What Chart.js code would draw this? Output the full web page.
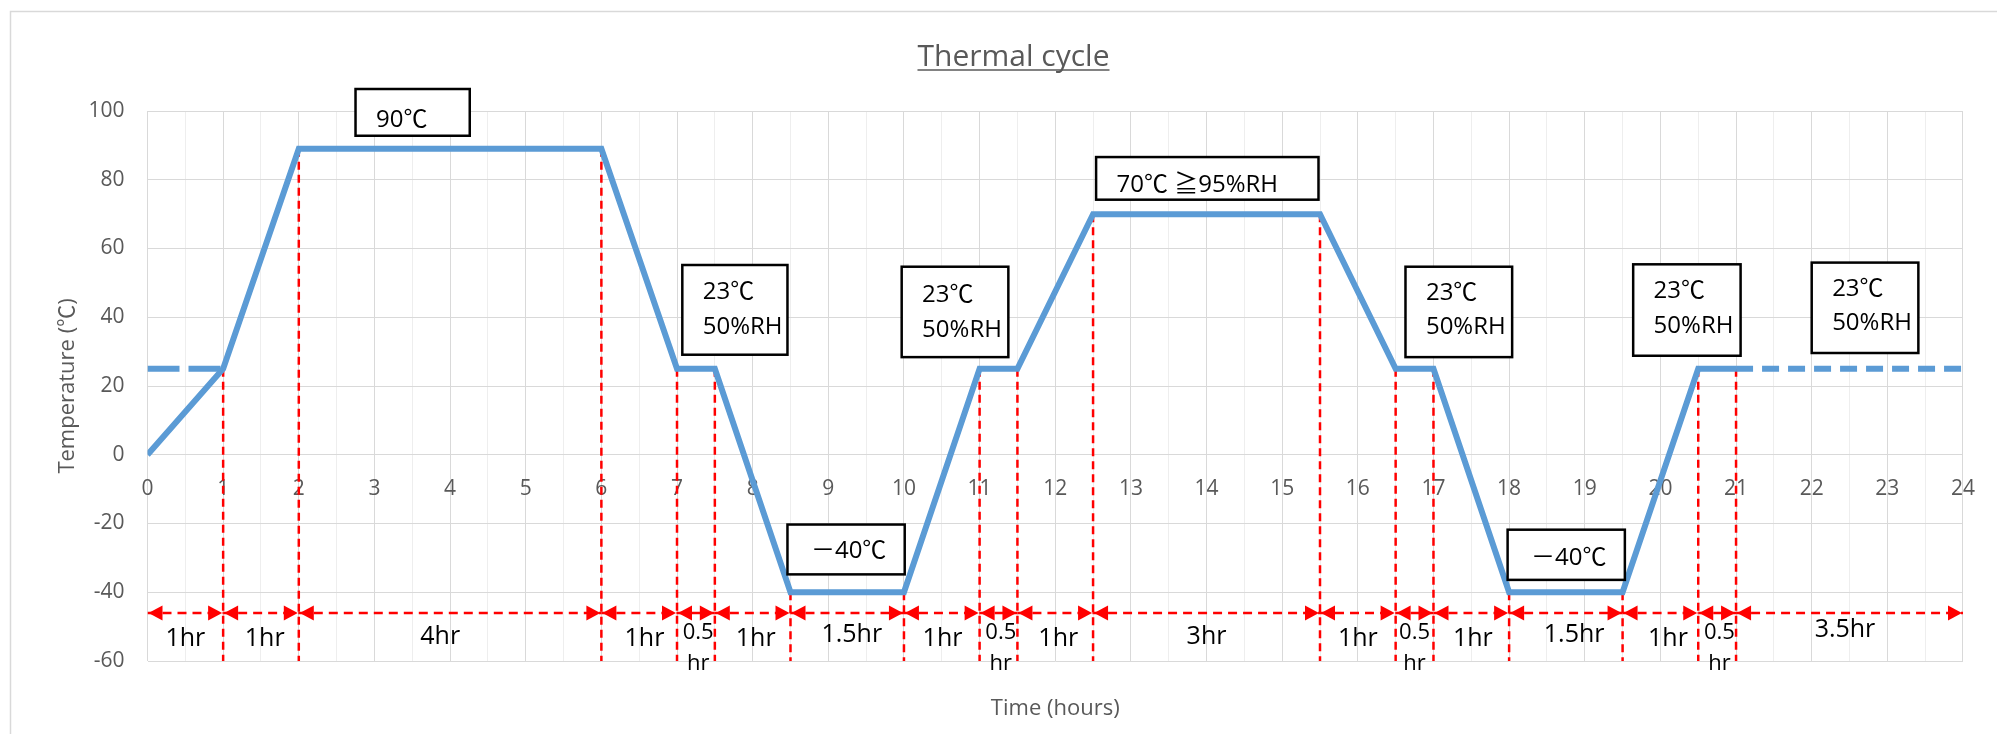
<!DOCTYPE html>
<html><head><meta charset="utf-8">
<script src="https://cdn.jsdelivr.net/npm/chart.js@4.4.1/dist/chart.umd.min.js"></script>
<style>html,body{margin:0;padding:0;background:#fff;}#wrap{width:1997px;height:734px;}</style>
</head><body><div id="wrap"><canvas id="c" width="1997" height="734"></canvas></div>
<script>
// ---- data ----
const profileX = [0, 1, 2, 6, 7, 7.5, 8.5, 10, 11, 11.5, 12.5, 15.5, 16.5, 17, 18, 19.5, 20.5, 21];
const profileY = [0, 25, 89, 89, 25, 25, -40, -40, 25, 25, 70, 70, 25, 25, -40, -40, 25, 25];
const leadX = [0, 1];
const leadY = [25, 25];
const tailX = [21, 24];
const tailY = [25, 25];
const markerX = [1, 2, 6, 7, 7.5, 8.5, 10, 11, 11.5, 12.5, 15.5, 16.5, 17, 18, 19.5, 20.5, 21];
const markerTop = [25, 89, 89, 25, 25, -40, -40, 25, 25, 70, 70, 25, 25, -40, -40, 25, 25];
const markerBottom = -60;
const spanEdges = [0, 1, 2, 6, 7, 7.5, 8.5, 10, 11, 11.5, 12.5, 15.5, 16.5, 17, 18, 19.5, 20.5, 21, 24];
const spanLevel = -46;
const spanLabels = ['1hr', '1hr', '4hr', '1hr', ['0.5', 'hr'], '1hr', '1.5hr', '1hr', ['0.5', 'hr'], '1hr', '3hr', '1hr', ['0.5', 'hr'], '1hr', '1.5hr', '1hr', ['0.5', 'hr'], '3.5hr'];
const spanLabelX = [0.5, 1.55, 3.87, 6.57, 7.28, 8.04, 9.31, 10.51, 11.28, 12.04, 14.0, 16.0, 16.75, 17.52, 18.86, 20.1, 20.78, 22.44];
const spanLabelY = [-53.5, -53.5, -53.1, -53.5, -51.8, -53.5, -52.4, -53.5, -51.8, -53.5, -53.1, -53.5, -51.8, -53.5, -52.4, -53.5, -51.8, -50.8];
const boxText = [['90℃'], ['23℃', '50%RH'], ['23℃', '50%RH'], ['70℃ ≧95%RH'], ['23℃', '50%RH'], ['23℃', '50%RH'], ['23℃', '50%RH'], ['－40℃'], ['－40℃']];
const boxX0 = [2.75, 7.07, 9.97, 12.54, 16.63, 19.64, 22.0, 8.46, 17.98];
const boxX1 = [4.26, 8.46, 11.38, 15.48, 18.04, 21.06, 23.41, 10.01, 19.53];
const boxTop = [106.4, 55.2, 54.7, 86.6, 54.7, 55.4, 55.9, -20.3, -21.8];
const boxBottom = [92.8, 29.1, 28.4, 74.2, 28.4, 28.8, 29.6, -34.8, -36.4];
const boxTextX = [3.02, 7.34, 10.24, 12.81, 16.9, 19.91, 22.27, 8.77, 18.29];
const boxTextY = [97.4, 47.2, 46.3, 78.3, 47.0, 47.5, 48.2, -28.0, -30.2];
const xTickLabels = [0,1,2,3,4,5,6,7,8,9,10,11,12,13,14,15,16,17,18,19,20,21,22,23,24];
const yTicks = [-60, -40, -20, 0, 20, 40, 60, 80, 100];

const FONT = "'Open Sans', 'Noto Sans CJK JP', sans-serif";
Chart.defaults.font.family = FONT;

const pts = (xs, ys) => xs.map((x, i) => ({x, y: ys[i]}));
const datasets = [];
datasets.push({data: pts(profileX, profileY), borderColor: '#5b9bd5', borderWidth: 6, pointRadius: 0, order: 0});
datasets.push({data: pts(leadX, leadY), borderColor: '#5b9bd5', borderWidth: 6, borderDash: [32, 9], pointRadius: 0, order: 1});
datasets.push({data: pts(tailX, tailY), borderColor: '#5b9bd5', borderWidth: 6, borderDash: [17, 9], pointRadius: 0, order: 1});
markerX.forEach((x, i) => datasets.push({data: [{x, y: markerTop[i]}, {x, y: markerBottom}], borderColor: '#ff0000', borderWidth: 2.5, borderDash: [8, 5], pointRadius: 0, order: 2}));
for (let i = 0; i < spanEdges.length - 1; i++) {
  datasets.push({data: [{x: spanEdges[i], y: spanLevel}, {x: spanEdges[i + 1], y: spanLevel}], borderColor: '#ff0000', borderWidth: 2.5, borderDash: [9, 6], pointRadius: 0, order: 3});
}

const overlay = {
  id: 'overlay',
  beforeDraw(chart) {
    const ctx = chart.ctx;
    ctx.save();
    ctx.fillStyle = '#fff';
    ctx.fillRect(0, 0, chart.width, chart.height);
    ctx.strokeStyle = '#d9d9d9';
    ctx.lineWidth = 1.5;
    ctx.strokeRect(10.5, 11.5, chart.width + 60, chart.height + 60);
    ctx.restore();
  },
  afterDatasetsDraw(chart) {
    const ctx = chart.ctx, xs = chart.scales.x, ys = chart.scales.y;
    ctx.save();
    ctx.fillStyle = '#ff0000';
    const yA = ys.getPixelForValue(spanLevel);
    const L = 14, H = 7.5;
    for (let i = 0; i < spanEdges.length - 1; i++) {
      const a = xs.getPixelForValue(spanEdges[i]) + 1, b = xs.getPixelForValue(spanEdges[i + 1]) - 1;
      ctx.beginPath(); ctx.moveTo(a, yA); ctx.lineTo(a + L, yA - H); ctx.lineTo(a + L, yA + H); ctx.closePath(); ctx.fill();
      ctx.beginPath(); ctx.moveTo(b, yA); ctx.lineTo(b - L, yA - H); ctx.lineTo(b - L, yA + H); ctx.closePath(); ctx.fill();
    }
    ctx.fillStyle = '#000';
    ctx.textAlign = 'center';
    ctx.textBaseline = 'middle';
    const gap = ys.getPixelForValue(0) - ys.getPixelForValue(9.1);
    spanLabels.forEach((t, i) => {
      const px = xs.getPixelForValue(spanLabelX[i]), py = ys.getPixelForValue(spanLabelY[i]);
      if (Array.isArray(t)) {
        ctx.font = '22px ' + FONT;
        t.forEach((s, k) => ctx.fillText(s, px, py + k * gap));
      } else {
        ctx.font = '25px ' + FONT;
        ctx.fillText(t, px, py);
      }
    });
    const lgap = ys.getPixelForValue(0) - ys.getPixelForValue(10);
    boxText.forEach((lines, i) => {
      const x0 = xs.getPixelForValue(boxX0[i]), x1 = xs.getPixelForValue(boxX1[i]);
      const y0 = ys.getPixelForValue(boxTop[i]), y1 = ys.getPixelForValue(boxBottom[i]);
      ctx.fillStyle = '#fff';
      ctx.fillRect(x0, y0, x1 - x0, y1 - y0);
      ctx.strokeStyle = '#000';
      ctx.lineWidth = 2.5;
      ctx.strokeRect(x0, y0, x1 - x0, y1 - y0);
      ctx.fillStyle = '#000';
      ctx.textAlign = 'left';
      ctx.font = '24px ' + FONT;
      const tx = xs.getPixelForValue(boxTextX[i]), ty = ys.getPixelForValue(boxTextY[i]);
      lines.forEach((s, k) => ctx.fillText(s, tx, ty + k * lgap));
    });
    ctx.restore();
  },
  afterDraw(chart) {
    const ctx = chart.ctx, tb = chart.titleBlock;
    ctx.save();
    ctx.font = '30px ' + FONT;
    const w = ctx.measureText('Thermal cycle').width;
    const cx = (tb.left + tb.right) / 2;
    ctx.strokeStyle = '#595959';
    ctx.lineWidth = 1.5;
    ctx.beginPath();
    ctx.moveTo(cx - w / 2, 70); ctx.lineTo(cx + w / 2, 70);
    ctx.stroke();
    ctx.restore();
  }
};

new Chart(document.getElementById('c'), {
  type: 'line',
  data: {datasets},
  plugins: [overlay],
  options: {
    responsive: false,
    devicePixelRatio: 1,
    animation: false,
    events: [],
    layout: {padding: {left: 55, right: 25, top: 0, bottom: 0}},
    plugins: {
      legend: {display: false},
      tooltip: {enabled: false},
      title: {display: true, text: 'Thermal cycle', color: '#595959', font: {size: 30, weight: 'normal'}, padding: {top: 39.5, bottom: 35.5}}
    },
    scales: {
      x: {
        type: 'linear', min: 0, max: 24, position: {y: 0},
        afterBuildTicks: s => { const t = []; xTickLabels.forEach((v, i) => { t.push({value: v}); if (i < xTickLabels.length - 1) t.push({value: v + 0.5}); }); s.ticks = t; },
        afterFit: s => { s.height = 0; },
        grid: {drawTicks: false, color: c => (c.tick && Number.isInteger(c.tick.value)) ? '#d9d9d9' : '#eeeeee', lineWidth: 1},
        border: {display: false},
        ticks: {autoSkip: false, maxRotation: 0, padding: 22, color: '#595959', font: {size: 21}, callback: v => Number.isInteger(v) ? String(v) : ''}
      },
      x2: {
        type: 'linear', min: 0, max: 24, position: 'bottom',
        grid: {display: false}, border: {display: false}, ticks: {display: false},
        title: {display: true, text: 'Time (hours)', color: '#595959', font: {size: 22}, padding: {top: 26.8, bottom: 11.8}}
      },
      y: {
        type: 'linear', min: -60, max: 100, position: 'left',
        afterBuildTicks: s => { s.ticks = yTicks.map(v => ({value: v})); },
        afterFit: s => { s.width = 92.5; },
        grid: {drawTicks: false, color: '#d9d9d9', lineWidth: 1},
        border: {display: false},
        ticks: {padding: 23, color: '#595959', font: {size: 21}},
        title: {display: true, text: 'Temperature (℃)', color: '#595959', font: {size: 22}, padding: {top: 0, bottom: 0}}
      }
    }
  }
});
</script></body></html>
